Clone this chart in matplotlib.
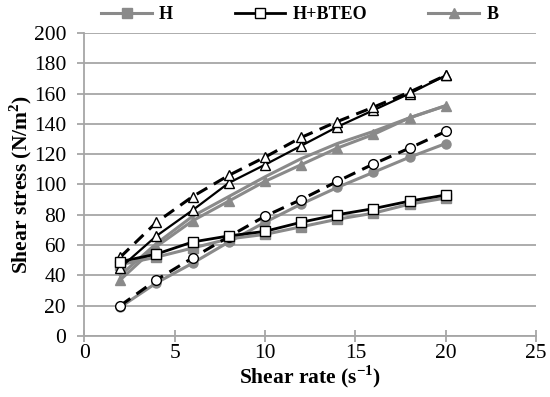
import numpy as np
import matplotlib.pyplot as plt

plt.rcParams['font.family'] = ['Liberation Serif', 'DejaVu Serif']
plt.rcParams['mathtext.fontset'] = 'custom'
plt.rcParams['mathtext.rm'] = 'Liberation Serif'
plt.rcParams['mathtext.bf'] = 'Liberation Serif:bold'

shear_rate = [2, 4, 6, 8, 10, 12, 14, 16, 18, 20]

# shear stress readings (N/m2)
h = [47, 52, 58, 64, 67, 72, 77, 81, 87, 91]
h_bteo = [49, 54, 62, 66, 69, 75, 80, 84, 89, 93]
b = [37, 59, 76, 89, 102, 113, 124, 133, 144, 152]
b_rep = [40, 61, 79, 92, 105, 117, 127, 135, 144, 152]
b_bteo = [52, 75, 92, 106, 118, 131, 141.5, 151, 161, 172]
b_bteo_rep = [45, 66, 83, 101, 113, 125.5, 138, 149, 160, 172]
c = [19, 35, 48, 62, 75, 87, 98, 108, 118, 127]
c_bteo = [20, 37, 51.5, 65.5, 79, 90, 102, 113.5, 124, 135]

gray = '#8a8a8a'
grid_gray = '#a6a6a6'

fig = plt.figure(figsize=(5.5, 3.97), dpi=100)
ax = fig.add_axes([0.153, 0.154, 0.822, 0.763])

ax.plot(shear_rate, c, color=gray, lw=2.2, marker='o', ms=6.5, mfc=gray, mec=gray, zorder=3)
ax.plot(shear_rate, c_bteo, color='black', lw=2.2, ls=(0, (4, 2.5)), marker='o', ms=7,
        mfc='white', mec='black', zorder=4)
ax.plot(shear_rate, b_rep, color=gray, lw=2.2, zorder=3)
l3, = ax.plot(shear_rate, b, color=gray, lw=2.2, marker='^', ms=7, mfc=gray, mec=gray,
              zorder=3, label='B')
ax.plot(shear_rate, b_bteo_rep, color='black', lw=1.6, marker='^', ms=7,
        mfc='white', mec='black', zorder=4)
ax.plot(shear_rate, b_bteo, color='black', lw=2.2, ls=(0, (4, 2.5)), marker='^', ms=7,
        mfc='white', mec='black', zorder=4)
l1, = ax.plot(shear_rate, h, color=gray, lw=2.2, marker='s', ms=6.5, mfc=gray, mec=gray,
              zorder=3, label='H')
l2, = ax.plot(shear_rate, h_bteo, color='black', lw=2.0, marker='s', ms=6.5,
              mfc='white', mec='black', zorder=4, label='H+BTEO')

ax.set_xlim(0, 25)
ax.set_ylim(0, 200)
ax.set_xticks(np.arange(0, 26, 5))
ax.set_yticks(np.arange(0, 201, 20))
ax.yaxis.grid(True, color=grid_gray, lw=1.3)
ax.set_axisbelow(True)

for s in ['top', 'right']:
    ax.spines[s].set_visible(False)
for s in ['left', 'bottom']:
    ax.spines[s].set_color(grid_gray)
    ax.spines[s].set_linewidth(1.3)
ax.tick_params(axis='both', colors=grid_gray, length=5, width=1.3, labelsize=15.5,
               labelcolor='black')
ax.tick_params(axis='x', direction='inout', length=8, pad=2)
ax.tick_params(axis='y', pad=8)

ax.set_xlabel('Shear rate (s$^{\\mathbf{-1}}$)', fontsize=15.5, fontweight='bold', labelpad=0)
ax.set_ylabel('Shear stress (N/m$^{\\mathbf{2}}$)', fontsize=15.5, fontweight='bold', labelpad=0)

fig.legend(handles=[l1, l2, l3], loc='upper center', bbox_to_anchor=(0.545, 1.025), ncol=3,
           frameon=False, handlelength=2.8, columnspacing=3.4, handletextpad=0.4,
           prop={'weight': 'bold', 'size': 13})

fig.savefig('out.png', dpi=100)
